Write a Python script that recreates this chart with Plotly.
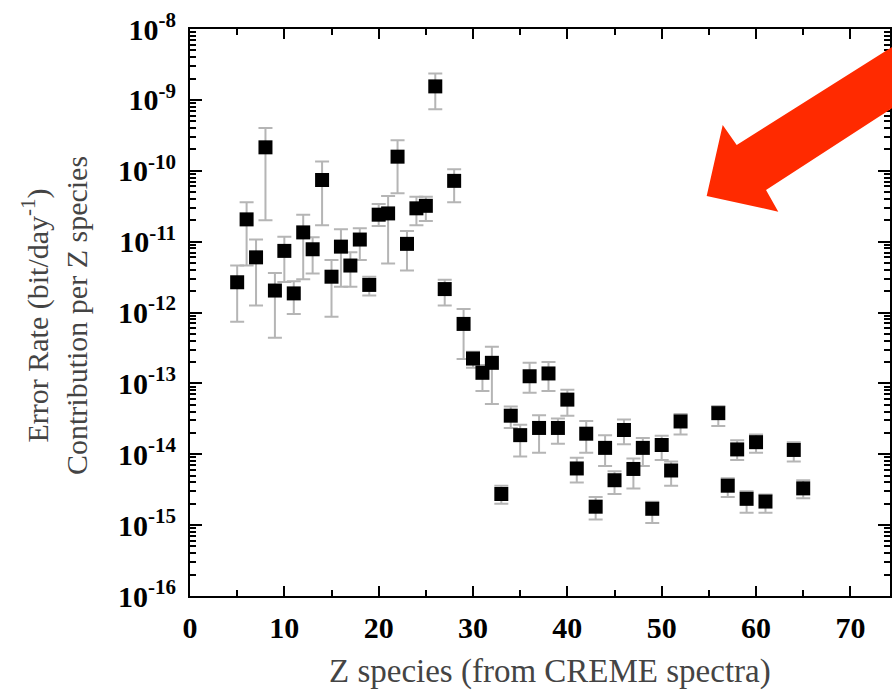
import plotly.graph_objects as go

# Z species (atomic number)
z_species = [5, 6, 7, 8, 9, 10, 11, 12, 13, 14, 15, 16, 17, 18, 19, 20, 21, 22, 23, 24, 25,
             26, 27, 28, 29, 30, 31, 32, 33, 34, 35, 36, 37, 38, 39, 40, 41, 42, 43, 44, 45,
             46, 47, 48, 49, 50, 51, 52, 56, 57, 58, 59, 60, 61, 64, 65]

# Error rate contribution (bit/day^-1)
error_rate = [2.67e-12, 2.06e-11, 6.0e-12, 2.14e-10, 2.04e-12, 7.4e-12, 1.86e-12, 1.35e-11,
              7.8e-12, 7.4e-11, 3.2e-12, 8.5e-12, 4.6e-12, 1.07e-11, 2.45e-12, 2.4e-11,
              2.5e-11, 1.58e-10, 9.3e-12, 2.95e-11, 3.2e-11, 1.55e-9, 2.14e-12, 7.2e-11,
              6.9e-13, 2.24e-13, 1.41e-13, 1.95e-13, 2.75e-15, 3.5e-14, 1.86e-14, 1.26e-13,
              2.35e-14, 1.38e-13, 2.35e-14, 5.9e-14, 6.3e-15, 1.95e-14, 1.82e-15, 1.23e-14,
              4.3e-15, 2.2e-14, 6.2e-15, 1.23e-14, 1.7e-15, 1.35e-14, 5.9e-15, 2.9e-14,
              3.8e-14, 3.6e-15, 1.17e-14, 2.35e-15, 1.48e-14, 2.15e-15, 1.15e-14, 3.3e-15]

# Lower and upper ends of the error bars
error_low = [7.4e-13, 4.6e-12, 1.26e-12, 2.0e-11, 4.4e-13, 2.7e-12, 9.5e-13, 2.95e-12,
             3.55e-12, 1.7e-11, 8.7e-13, 2.3e-12, 2.3e-12, 5.5e-12, 1.74e-12, 1.66e-11,
             4.9e-12, 4.8e-11, 3.9e-12, 1.7e-11, 1.95e-11, 7.4e-10, 1.26e-12, 3.6e-11,
             2.2e-13, 1.66e-13, 7.8e-14, 5.1e-14, 2.0e-15, 2.35e-14, 9.3e-15, 7.4e-14,
             1.05e-14, 7.8e-14, 1.41e-14, 3.5e-14, 4.0e-15, 1.05e-14, 1.2e-15, 6.8e-15,
             2.75e-15, 1.38e-14, 3.3e-15, 6.8e-15, 1.07e-15, 8.3e-15, 3.6e-15, 1.9e-14,
             2.5e-14, 2.5e-15, 8.3e-15, 1.5e-15, 1.05e-14, 1.5e-15, 7.9e-15, 2.4e-15]

error_high = [4.6e-12, 3.6e-11, 1.07e-11, 4.0e-10, 3.6e-12, 1.17e-11, 2.75e-12, 2.4e-11,
              1.15e-11, 1.35e-10, 5.5e-12, 1.5e-11, 7.1e-12, 1.55e-11, 3.2e-12, 3.4e-11,
              4.4e-11, 2.7e-10, 1.41e-11, 4.3e-11, 4.3e-11, 2.35e-9, 2.9e-12, 1.05e-10,
              1.12e-12, 2.8e-13, 1.82e-13, 3.3e-13, 3.6e-15, 4.7e-14, 2.6e-14, 1.95e-13,
              3.55e-14, 2.0e-13, 3.2e-14, 8.1e-14, 8.9e-15, 2.95e-14, 2.5e-15, 1.86e-14,
              5.75e-15, 3.1e-14, 8.7e-15, 1.7e-14, 2.14e-15, 1.82e-14, 7.9e-15, 3.7e-14,
              4.8e-14, 4.6e-15, 1.58e-14, 3.0e-15, 1.9e-14, 2.7e-15, 1.48e-14, 4.3e-15]

x_tick_vals = [0, 10, 20, 30, 40, 50, 60, 70]
y_tick_vals = [1e-16, 1e-15, 1e-14, 1e-13, 1e-12, 1e-11, 1e-10, 1e-9, 1e-8]
y_tick_text = ["10<sup>-16</sup>", "10<sup>-15</sup>", "10<sup>-14</sup>", "10<sup>-13</sup>",
               "10<sup>-12</sup>", "10<sup>-11</sup>", "10<sup>-10</sup>", "10<sup>-9</sup>",
               "10<sup>-8</sup>"]

err_plus = [h - v for h, v in zip(error_high, error_rate)]
err_minus = [v - l for v, l in zip(error_rate, error_low)]

W, H = 892, 695
L, R, T, B = 190, 2, 29, 99
PW, PH = W - L - R, H - T - B

fig = go.Figure()
fig.add_trace(go.Scatter(
    x=z_species, y=error_rate, mode="markers",
    marker=dict(symbol="square", size=14, color="black"),
    error_y=dict(type="data", symmetric=False, array=err_plus, arrayminus=err_minus,
                 color="#b5b5b5", thickness=2, width=7),
    showlegend=False,
))

serif = "Liberation Serif, Times New Roman, serif"

fig.update_xaxes(
    range=[0, 74.2], tickvals=x_tick_vals, automargin=False,
    ticks="inside", ticklen=10, tickwidth=2, tickcolor="black",
    minor=dict(ticks="inside", dtick=5, ticklen=6, tickwidth=2, tickcolor="black"),
    showline=True, linecolor="black", linewidth=2, mirror="allticks",
    showgrid=False, zeroline=False, ticklabelstandoff=4,
    tickfont=dict(family=serif, size=30, color="black", weight="bold"),
)
fig.update_yaxes(
    type="log", range=[-16, -8], tickvals=y_tick_vals, ticktext=y_tick_text,
    automargin=False,
    ticks="inside", ticklen=12, tickwidth=2, tickcolor="black",
    minor=dict(ticks="inside", dtick="D1", ticklen=6, tickwidth=1.5, tickcolor="black"),
    showline=True, linecolor="black", linewidth=2, mirror="allticks",
    showgrid=False, zeroline=False, ticklabelstandoff=6,
    tickfont=dict(family=serif, size=30, color="black", weight="bold"),
)


def px(xp, yp):
    return ((xp - L) / PW, (H - B - yp) / PH)


arrow_pts = [(706.7, 196), (722.7, 125), (736.7, 145), (900, 42), (900, 103),
             (766, 190), (778.3, 211.7)]
path = ""
for i, (a, b) in enumerate(arrow_pts):
    xx, yy = px(a, b)
    path += ("M" if i == 0 else "L") + f"{xx:.4f},{yy:.4f} "
path += "Z"
fig.add_shape(type="path", path=path, xref="paper", yref="paper",
              fillcolor="#ff2a00", line=dict(width=0), layer="above")

fig.add_annotation(
    text="Error Rate (bit/day<sup>-1</sup>)<br>Contribution per Z species",
    xref="paper", yref="paper", x=px(54, 0)[0], y=px(0, 316)[1],
    xanchor="center", yanchor="middle", textangle=-90, showarrow=False,
    font=dict(family=serif, size=30, color="#444444"),
)
fig.add_annotation(
    text="Z species (from CREME spectra)",
    xref="paper", yref="paper", x=px(550, 0)[0], y=px(0, 671)[1],
    xanchor="center", yanchor="middle", showarrow=False,
    font=dict(family=serif, size=33, color="#444444"),
)

fig.update_layout(
    width=W, height=H,
    margin=dict(l=L, r=R, t=T, b=B),
    plot_bgcolor="white", paper_bgcolor="white",
)

fig.write_html("out.html", config={"displayModeBar": False},
               post_script="document.body.style.margin='0';document.body.style.overflow='hidden';")
